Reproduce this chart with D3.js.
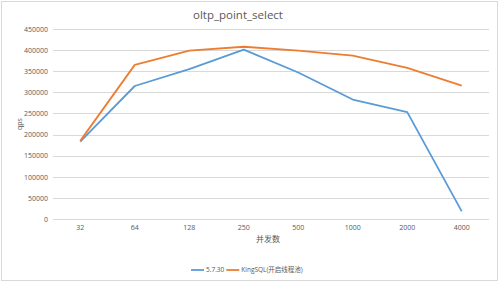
<!DOCTYPE html>
<html>
<head>
  <meta charset="utf-8">
  <script src="https://d3js.org/d3.v7.min.js"></script>
  <style>
    body { margin: 0; background: #fff; }
    text { font-family: "Open Sans", "Noto Sans CJK SC", sans-serif; fill: #595959; }
    .tick line { display: none; }
    .domain { display: none; }
  </style>
</head>
<body>
  <script>
    // Data
    const concurrency = ["32", "64", "128", "250", "500", "1000", "2000", "4000"];
    const mysql5730 = [183000, 315000, 355000, 401000, 347000, 283000, 253000, 18000];
    const kingsql = [185000, 365000, 399000, 408000, 399000, 387000, 358000, 316000];
    const yTicks = [0, 50000, 100000, 150000, 200000, 250000, 300000, 350000, 400000, 450000];

    const seriesNames = ["5.7.30", "KingSQL(开启线程池)"];
    const colors = ["#5b9bd5", "#ed7d31"];

    const W = 499, H = 282;
    const margin = {top: 29, right: 10, bottom: 63, left: 53};
    const width = 489 - margin.left,
          height = 219 - margin.top;

    const root = d3.select("body").append("svg")
      .attr("width", W)
      .attr("height", H);

    // chart border
    root.append("rect")
      .attr("x", 1.5).attr("y", 1.5)
      .attr("width", W - 3).attr("height", H - 3)
      .attr("fill", "#fff")
      .attr("stroke", "#d9d9d9");

    const svg = root.append("g")
      .attr("transform", `translate(${margin.left},${margin.top})`);

    const x = d3.scaleBand()
      .domain(concurrency)
      .range([0, width]);

    const y = d3.scaleLinear()
      .domain([0, 450000])
      .range([height, 0]);

    // gridlines
    svg.append("g")
      .selectAll("line")
      .data(yTicks)
      .join("line")
        .attr("x1", 0).attr("x2", width)
        .attr("y1", d => Math.round(y(d)) + 0.5)
        .attr("y2", d => Math.round(y(d)) + 0.5)
        .attr("stroke", "#d9d9d9")
        .attr("stroke-width", 1);

    // Y axis
    svg.append("g")
      .call(d3.axisLeft(y).tickValues(yTicks).tickSize(0).tickPadding(5).tickFormat(d3.format("d")))
      .call(g => g.selectAll("text").attr("font-size", 7).attr("fill", "#595959"));

    // X axis
    svg.append("g")
      .attr("transform", `translate(0, ${height})`)
      .call(d3.axisBottom(x).tickSize(0).tickPadding(6))
      .call(g => g.selectAll("text").attr("font-size", 7).attr("fill", "#595959"));

    // lines
    const line = d3.line()
      .x((d, i) => x(concurrency[i]) + x.bandwidth() / 2)
      .y(d => y(d));

    [mysql5730, kingsql].forEach((s, i) => {
      svg.append("path")
        .datum(s)
        .attr("fill", "none")
        .attr("stroke", colors[i])
        .attr("stroke-width", 1.8)
        .attr("stroke-linejoin", "round")
        .attr("d", line);
    });

    // title
    root.append("text")
      .attr("x", 238)
      .attr("y", 19)
      .attr("text-anchor", "middle")
      .attr("font-size", 11.5)
      .text("oltp_point_select");

    // axis titles
    root.append("text")
      .attr("transform", "translate(22,124) rotate(-90)")
      .attr("text-anchor", "middle")
      .attr("font-size", 7)
      .text("qps");

    root.append("text")
      .attr("x", 268)
      .attr("y", 242)
      .attr("text-anchor", "middle")
      .attr("font-size", 8)
      .text("并发数");

    // legend
    const legend = root.append("g")
      .attr("transform", "translate(191, 270)");
    let offset = 0;
    seriesNames.forEach((name, i) => {
      const row = legend.append("g")
        .attr("transform", `translate(${offset}, 0)`);
      row.append("line")
        .attr("x1", 0).attr("x2", 13)
        .attr("stroke", colors[i])
        .attr("stroke-width", 1.8);
      const t = row.append("text")
        .attr("x", 15)
        .attr("y", 2.3)
        .attr("font-size", 6.5)
        .text(name);
      offset += 15 + t.node().getComputedTextLength() + 2;
    });
  </script>
</body>
</html>
